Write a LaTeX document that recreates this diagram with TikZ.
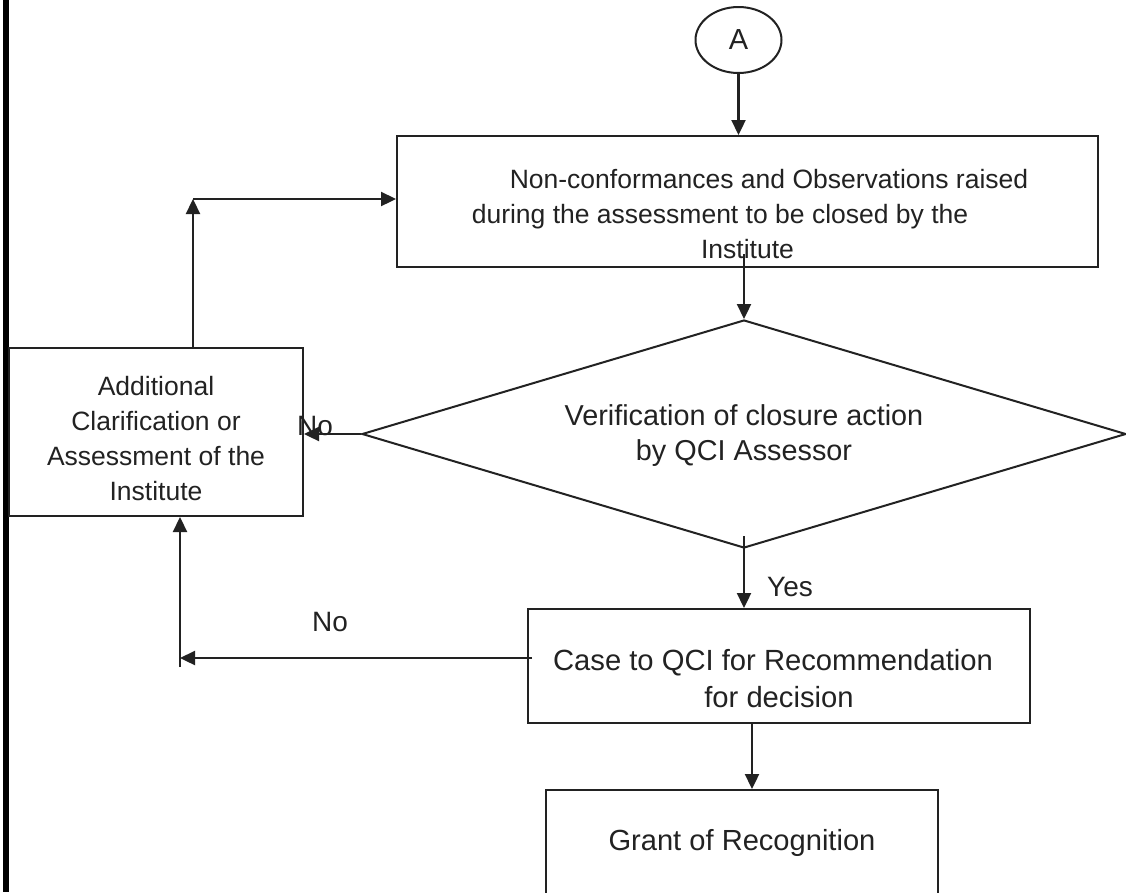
\documentclass[tikz,border=0pt]{standalone}
\usepackage{fontspec}
\setmainfont{Liberation Sans}
\usetikzlibrary{arrows.meta,shapes.geometric,calc}
\definecolor{ink}{HTML}{222222}
% #1 raise of first baseline above node centre, #2 font size, #3 baselineskip, #4 lines
\newcommand{\boxtext}[4]{\raisebox{#1}[0pt][0pt]{\fontsize{#2}{#3}\selectfont\begin{tabular}[t]{@{}c@{}}#4\end{tabular}}}
\begin{document}
\begin{tikzpicture}[x=1pt,y=-1pt,
  box/.style={draw=ink, line width=2pt, rectangle, text=ink},
  dia/.style={draw=ink, line width=2pt, diamond, aspect=3.35, inner sep=0pt, text=ink},
  ell/.style={draw=ink, line width=2pt, ellipse, minimum width=86pt, minimum height=66pt, inner sep=0pt, text=ink, font=\fontsize{29}{34}\selectfont},
  arr/.style={draw=ink, line width=2.3pt, -{Triangle[length=15pt,width=14pt]}},
  lbl/.style={text=ink, inner sep=0pt, font=\fontsize{28}{34}\selectfont}]
\clip (0,0) rectangle (1126,892);
\fill[white] (0,0) rectangle (1126,892);
\fill[black] (3,0) rectangle (9,892);

\node[ell] (A) at (738.5,40) {A};
\node[box, minimum width=701pt, minimum height=131pt] (b1) at (747.5,201.5)
  {\boxtext{13.5pt}{26.5}{35}{\hspace*{43pt}Non-conformances and Observations raised\\ during the assessment to be closed by the\hspace*{55pt}\\ Institute}};
\node[dia, minimum width=764pt, minimum height=228pt] (d) at (744,434)
  {\boxtext{9pt}{28.8}{35}{Verification of closure action\\ by QCI Assessor}};
\node[box, minimum width=294pt, minimum height=168pt] (lb) at (156,432)
  {\boxtext{37pt}{26.5}{35}{Additional\\ Clarification or\\ Assessment of the\\ Institute}};
\node[box, minimum width=502pt, minimum height=114pt] (case) at (779,666)
  {\boxtext{-4pt}{29.2}{37}{Case to QCI for Recommendation\hspace*{12pt}\\ for decision}};
\node[box, minimum width=392pt, minimum height=160pt] (gr) at (742,870)
  {\boxtext{20pt}{29.1}{35}{Grant of Recognition}};

\coordinate (c1) at (193,199);
\coordinate (c2) at (180,658);
\coordinate (c3) at (752,0);

\draw[arr] (A.south) -- (A.south |- b1.north);
\draw[arr] ($(b1.south -| d.north)+(0,-14)$) -- (d.north);
\draw[arr] (d.west) -- (d.west -| lb.east);
\draw[arr] ($(d.south)+(0,-13)$) -- (d.south |- case.north);
\draw[arr] (case.south -| c3) -- (gr.north -| c3);
\draw[arr] (lb.north -| c1) -- (c1);
\draw[arr] (c1) -- (c1 -| b1.west);
\draw[arr] ($(case.west |- c2)+(5,0)$) -- (c2);
\draw[arr] ($(c2)+(0,9)$) -- (c2 |- lb.south);

\node[lbl] (no1) at (315,426) {No};
\node[lbl] (no2) at (330,622) {No};
\node[lbl] (yes) at (790,587) {Yes};
\end{tikzpicture}
\end{document}
